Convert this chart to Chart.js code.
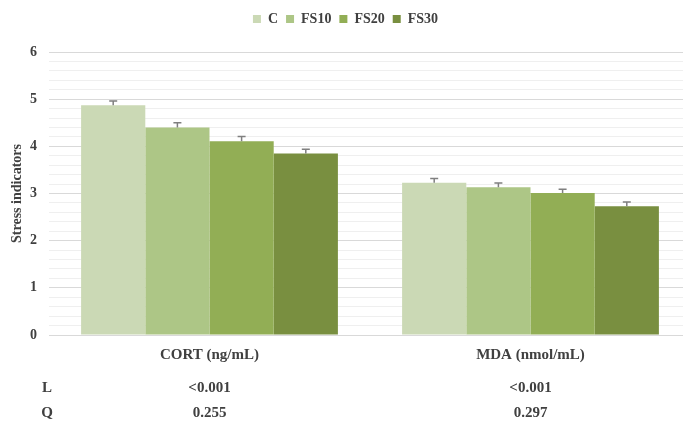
<!DOCTYPE html>
<html>
<head>
<meta charset="utf-8">
<script src="https://cdn.jsdelivr.net/npm/chart.js@4.4.0/dist/chart.umd.min.js"></script>
<style>
  html, body { margin: 0; padding: 0; background: #fff; overflow: hidden; }
  #wrap { position: relative; width: 691px; height: 421px; }
</style>
</head>
<body>
<div id="wrap"><canvas id="stressChart"></canvas></div>
<script>
// indicators on the x axis
const categories = ['CORT (ng/mL)', 'MDA (nmol/mL)'];
const groups = ['C', 'FS10', 'FS20', 'FS30'];

// means per group, one value per indicator
const valuesC = [4.87, 3.23];
const valuesFS10 = [4.40, 3.13];
const valuesFS20 = [4.11, 3.01];
const valuesFS30 = [3.85, 2.73];

// standard errors (drawn upward only)
const errorsC = [0.09, 0.09];
const errorsFS10 = [0.10, 0.09];
const errorsFS20 = [0.10, 0.08];
const errorsFS30 = [0.09, 0.09];

// linear / quadratic p-values under each indicator
const pLinear = ['<0.001', '<0.001'];
const pQuadratic = ['0.255', '0.297'];

const colors = ['#cbd9b5', '#adc686', '#92ae55', '#798f40'];
const textColor = '#404040';
const serif = '"Liberation Serif", "Times New Roman", serif';

const seriesValues = [valuesC, valuesFS10, valuesFS20, valuesFS30];
const seriesErrors = [errorsC, errorsFS10, errorsFS20, errorsFS30];

const datasets = groups.map((g, i) => ({
    label: g,
    data: seriesValues[i],
    errors: seriesErrors[i],
    backgroundColor: colors[i],
    borderWidth: 0,
    categoryPercentage: 0.8,
    barPercentage: 1.0
}));

// extra room between the legend and the plot
const legendGap = {
    id: 'legendGap',
    beforeInit(chart) {
        const fit = chart.legend.fit;
        chart.legend.fit = function () {
            fit.bind(chart.legend)();
            this.height += 16;
        };
    }
};

// upward error bars with a small cap
const errorBars = {
    id: 'errorBars',
    afterDatasetsDraw(chart) {
        const ctx = chart.ctx;
        const y = chart.scales.y;
        ctx.save();
        ctx.strokeStyle = '#7f7f7f';
        ctx.lineWidth = 1.5;
        chart.data.datasets.forEach((ds, di) => {
            const meta = chart.getDatasetMeta(di);
            meta.data.forEach((bar, j) => {
                const top = y.getPixelForValue(ds.data[j] + ds.errors[j]);
                ctx.beginPath();
                ctx.moveTo(bar.x, bar.y);
                ctx.lineTo(bar.x, top);
                ctx.moveTo(bar.x - 4, top);
                ctx.lineTo(bar.x + 4, top);
                ctx.stroke();
            });
        });
        ctx.restore();
    }
};

// L / Q rows below the category labels
const pTable = {
    id: 'pTable',
    afterDraw(chart) {
        const ctx = chart.ctx;
        const x = chart.scales.x;
        const base = chart.chartArea.bottom;
        ctx.save();
        ctx.fillStyle = textColor;
        ctx.font = 'bold 15px ' + serif;
        ctx.textBaseline = 'middle';
        ctx.textAlign = 'center';
        const rows = [['L', pLinear, base + 53], ['Q', pQuadratic, base + 78]];
        rows.forEach(([name, vals, yy]) => {
            ctx.fillText(name, 47, yy);
            vals.forEach((v, i) => ctx.fillText(v, x.getPixelForValue(i), yy));
        });
        ctx.restore();
    }
};

const isMajor = v => Math.abs(v - Math.round(v)) < 1e-6;

new Chart(document.getElementById('stressChart'), {
    type: 'bar',
    data: { labels: categories, datasets: datasets },
    options: {
        responsive: true,
        maintainAspectRatio: false,
        animation: false,
        layout: { padding: { top: 4, bottom: 54, left: 0, right: 0 } },
        plugins: {
            legend: {
                position: 'top',
                labels: {
                    boxWidth: 8,
                    boxHeight: 8,
                    padding: 8,
                    color: textColor,
                    font: { family: serif, size: 14, weight: 'bold' }
                }
            },
            tooltip: { enabled: false }
        },
        scales: {
            x: {
                grid: { display: false },
                border: { display: false },
                ticks: {
                    color: textColor,
                    padding: 3,
                    font: { family: serif, size: 15, weight: 'bold' }
                }
            },
            y: {
                min: 0,
                max: 6,
                border: { display: false },
                afterFit(scale) { scale.width = 49; },
                title: {
                    display: true,
                    text: 'Stress indicators',
                    color: textColor,
                    padding: { top: 9, bottom: 0 },
                    font: { family: serif, size: 14, weight: 'bold' }
                },
                grid: {
                    drawTicks: false,
                    color: c => isMajor(c.tick.value) ? '#d9d9d9' : '#efefef',
                    lineWidth: 1
                },
                ticks: {
                    stepSize: 0.2,
                    autoSkip: false,
                    padding: 12,
                    color: textColor,
                    font: { family: serif, size: 14, weight: 'bold' },
                    callback: v => isMajor(v) ? String(Math.round(v)) : ''
                }
            }
        }
    },
    plugins: [legendGap, errorBars, pTable]
});
</script>
</body>
</html>
